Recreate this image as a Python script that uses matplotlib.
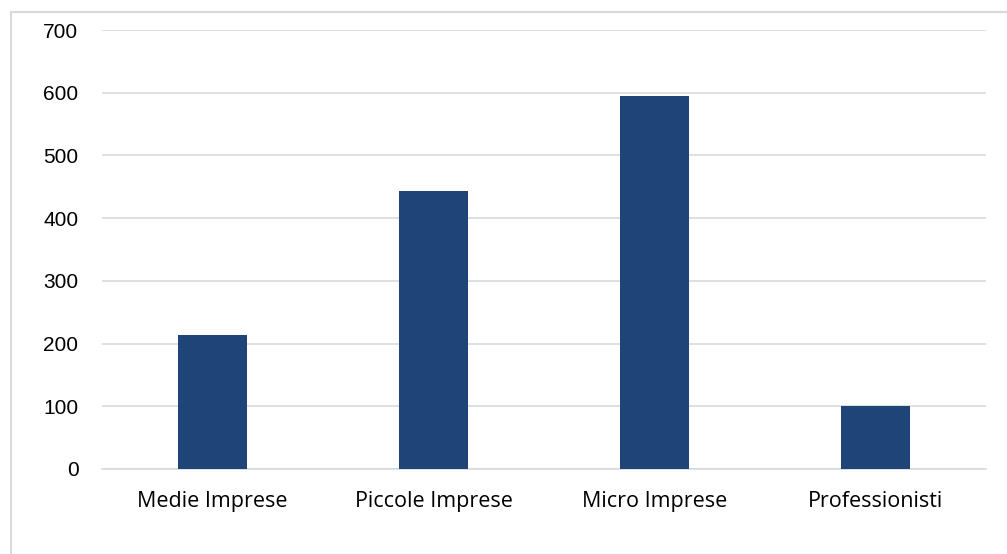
import matplotlib.pyplot as plt
from matplotlib.patches import Rectangle

# chart data
categories = ['Medie Imprese', 'Piccole Imprese', 'Micro Imprese', 'Professionisti']
values = [213, 443, 594, 100]
y_ticks = [0, 100, 200, 300, 400, 500, 600, 700]

bar_color = '#1F4477'
grid_color = '#D9D9D9'

fig = plt.figure(figsize=(10.07, 5.54), dpi=100)
ax = fig.add_axes([102 / 1007, 1 - 469 / 554, 884 / 1007, 439 / 554])

# outer chart border (cropped on the right and bottom)
fig.patches.append(Rectangle((11 / 1007, -0.1), 1.1, 1 - 12 / 554 + 0.1,
                             transform=fig.transFigure, fill=False,
                             edgecolor=grid_color, linewidth=1.5))

x = range(len(categories))
ax.bar(x, values, width=0.31, color=bar_color, zorder=3)

ax.set_xlim(-0.5, len(categories) - 0.5)
ax.set_ylim(0, 700)
ax.set_yticks(y_ticks)
ax.set_xticks(list(x))
ax.set_xticklabels(categories, fontsize=15.5, fontfamily='Open Sans')
ax.tick_params(axis='x', length=0, pad=16)
ax.tick_params(axis='y', length=0, pad=17, labelsize=15)
for lbl in ax.get_yticklabels():
    lbl.set_fontfamily('Liberation Sans')

ax.grid(axis='y', color=grid_color, linewidth=1.2, zorder=0)
for side in ['top', 'right', 'left']:
    ax.spines[side].set_visible(False)
ax.spines['bottom'].set_color(grid_color)
ax.spines['bottom'].set_linewidth(1.2)

fig.savefig('out.png', dpi=100)
